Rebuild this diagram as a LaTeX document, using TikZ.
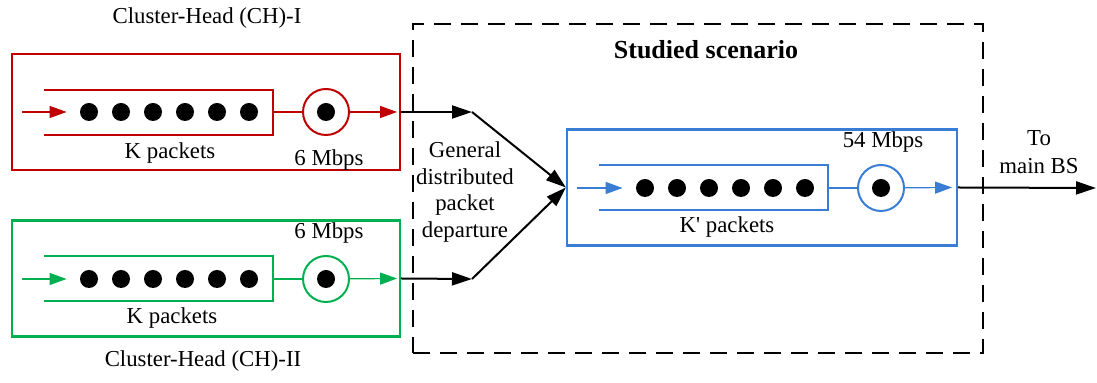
\documentclass[tikz,border=0pt]{standalone}
\usepackage{fontspec}
\setmainfont{Liberation Serif}
\usepackage{xcolor}
\usepackage{tikz}
\usetikzlibrary{arrows.meta,positioning}

\definecolor{chred}{RGB}{192,0,0}
\definecolor{chgreen}{RGB}{0,176,80}
\definecolor{chblue}{RGB}{58,125,212}

\begin{document}
\begin{tikzpicture}[x=0.5pt,y=-0.5pt,node distance=16pt,
  font=\fontsize{11.4}{13.4}\selectfont,
  packet/.style={circle,fill=black,inner sep=0pt,minimum size=9pt},
  server/.style={circle,draw,line width=1pt,inner sep=0pt,minimum size=23pt},
  ch box/.style={draw,line width=1.1pt,minimum width=194pt,minimum height=58pt},
  queue/.style={line width=1pt},
  flow/.style={-{Triangle[length=8.5pt,width=6pt]},line width=0.6pt},
  link/.style={-{Triangle[length=10pt,width=6.5pt]},line width=1pt}]

  \useasboundingbox (0,0) rectangle (1097,383);

  % studied scenario
  \node[draw,line width=1pt,dash pattern=on 8.5pt off 5pt,minimum width=285pt,minimum height=164.5pt] (scenario) at (698,188.5) {};
  \node[font=\fontsize{13}{15}\selectfont\bfseries] (scentitle) at (706,50) {Studied scenario};

  % CH-I
  \node[ch box,draw=chred] (redbox) at (206,112) {};
  \node (redname) at (207,18) {Cluster-Head (CH)-I};
  \node[packet] (r1) at (89,112) {};
  \node[packet] (r2) [right of=r1] {};
  \node[packet] (r3) [right of=r2] {};
  \node[packet] (r4) [right of=r3] {};
  \node[packet] (r5) [right of=r4] {};
  \node[packet] (r6) [right of=r5] {};
  \node[server,draw=chred] (rs) [right of=r6,node distance=38.5pt] {};
  \node[packet] (rsdot) at (rs) {};
  \coordinate (rin) at (22,112);
  \coordinate (rq) at (273,112);
  \draw[queue,chred] (44,90) -| (273,135) -- (44,135);
  \draw[queue,chred] (rq) -- (rs);
  \draw[flow,chred] (rin) -- ([xshift=-6.5pt]r1.west);
  \draw[flow,chred] (rs) -- ([xshift=-2pt]redbox.east);
  \node (rk) at (170,153) {K packets};
  \node (rrate) at (329,160) {6 Mbps};

  % CH-II
  \node[ch box,draw=chgreen] (greenbox) at (206,278.5) {};
  \node (greenname) at (203,361) {Cluster-Head (CH)-II};
  \node[packet] (g1) at (89,279) {};
  \node[packet] (g2) [right of=g1] {};
  \node[packet] (g3) [right of=g2] {};
  \node[packet] (g4) [right of=g3] {};
  \node[packet] (g5) [right of=g4] {};
  \node[packet] (g6) [right of=g5] {};
  \node[server,draw=chgreen] (gs) [right of=g6,node distance=38.5pt] {};
  \node[packet] (gsdot) at (gs) {};
  \coordinate (gin) at (22,279);
  \coordinate (gq) at (273,279);
  \draw[queue,chgreen] (44,256) -| (273,301) -- (44,301);
  \draw[queue,chgreen] (gq) -- (gs);
  \draw[flow,chgreen] (gin) -- ([xshift=-6.5pt]g1.west);
  \draw[flow,chgreen] (gs) -- ([xshift=-2pt]greenbox.east);
  \node (gk) at (172,318) {K packets};
  \node (grate) at (329,233) {6 Mbps};

  % studied queue
  \node[ch box,draw=chblue,minimum width=195pt] (bluebox) at (762,187.5) {};
  \node[packet] (b1) at (645,188) {};
  \node[packet] (b2) [right of=b1] {};
  \node[packet] (b3) [right of=b2] {};
  \node[packet] (b4) [right of=b3] {};
  \node[packet] (b5) [right of=b4] {};
  \node[packet] (b6) [right of=b5] {};
  \node[server,draw=chblue] (bs) [right of=b6,node distance=38pt] {};
  \node[packet] (bsdot) at (bs) {};
  \coordinate (bin) at (577,188);
  \coordinate (bq) at (828,188);
  \draw[queue,chblue] (599,165) -| (828,210) -- (599,210);
  \draw[queue,chblue] (bq) -- (bs);
  \draw[flow,chblue] (bin) -- ([xshift=-6.5pt]b1.west);
  \draw[flow,chblue] (bs) -- ([xshift=-3pt]bluebox.east);
  \node (bk) at (727,227) {K\textquotesingle{} packets};
  \node (brate) at (883,142) {54 Mbps};

  % departures
  \coordinate (rj) at (472,112);
  \coordinate (gj) at (472,279);
  \coordinate (mainbs) at (1096,188);
  \draw[link] (redbox.east) -- (rj);
  \draw[link] (greenbox.east) -- (gj);
  \draw[link] (rj) -- (bluebox.west);
  \draw[link] (gj) -- (bluebox.west);
  \draw[link] (bluebox.east) -- (mainbs);
  \node[align=center] (depart) at (465,192) {General\\distributed\\packet\\departure};
  \node[align=center,font=\fontsize{11.4}{14}\selectfont] (tobs) at (1039,152) {To\\main BS};
\end{tikzpicture}
\end{document}
